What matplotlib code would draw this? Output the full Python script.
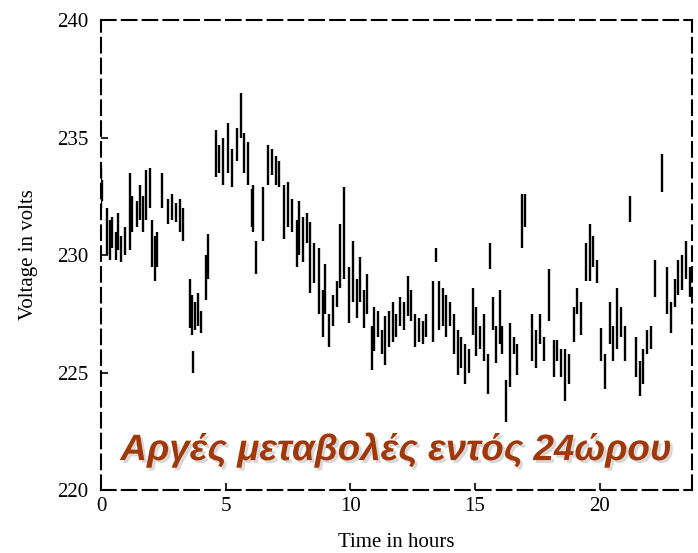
import matplotlib
matplotlib.use("Agg")
import matplotlib.pyplot as plt
import matplotlib.patheffects as pe

# time (h), low and high voltage of each trace stroke
t_hours = [0.00, 0.05, 0.25, 0.35, 0.45, 0.60, 0.70, 0.80, 0.95, 1.15, 1.25, 1.45, 1.55, 1.70, 1.80, 1.95,
           2.05, 2.15, 2.25, 2.45, 2.70, 2.85, 3.00, 3.15, 3.30, 3.55, 3.65, 3.70, 3.75, 3.90, 4.00, 4.20,
           4.30, 4.60, 4.75, 4.90, 5.10, 5.25, 5.45, 5.60, 5.75, 5.90, 6.05, 6.10, 6.20, 6.50, 6.70, 6.85,
           7.00, 7.15, 7.35, 7.50, 7.65, 7.85, 7.95, 8.10, 8.25, 8.40, 8.55, 8.75, 8.90, 9.00, 9.15, 9.30,
           9.45, 9.60, 9.75, 9.95, 10.10, 10.25, 10.40, 10.55, 10.65, 10.85, 10.95, 11.10, 11.25, 11.40,
           11.55, 11.70, 11.85, 12.00, 12.15, 12.30, 12.45, 12.60, 12.75, 12.90, 13.05, 13.30, 13.45, 13.55,
           13.70, 13.85, 14.00, 14.15, 14.30, 14.45, 14.60, 14.75, 14.90, 15.05, 15.20, 15.35, 15.50, 15.60,
           15.70, 15.85, 16.00, 16.10, 16.25, 16.40, 16.55, 16.70, 16.90, 17.00, 17.30, 17.45, 17.60, 17.75,
           17.95, 18.15, 18.30, 18.45, 18.60, 18.75, 18.95, 19.10, 19.25, 19.45, 19.60, 19.75, 19.90, 20.05,
           20.20, 20.40, 20.55, 20.70, 20.85, 21.00, 21.20, 21.45, 21.60, 21.75, 21.90, 22.05, 22.20, 22.50,
           22.70, 22.85, 23.00, 23.15, 23.30, 23.45, 23.60]
v_low = [232.0, 232.3, 230.0, 229.8, 230.3, 229.8, 230.2, 229.7, 230.0, 230.2, 231.0, 231.2, 231.5, 231.0, 231.5, 232.0,
         229.5, 228.9, 229.5, 232.0, 231.3, 231.5, 231.4, 231.0, 230.6, 226.9, 226.6, 225.0, 226.8, 227.0, 226.7, 228.1,
         229.0, 233.3, 233.5, 233.0, 233.5, 232.9, 234.0, 235.0, 233.5, 233.0, 231.2, 231.0, 229.2, 230.6, 233.0, 233.4,
         233.0, 232.9, 230.7, 231.2, 231.0, 229.5, 230.0, 229.7, 230.5, 228.4, 228.8, 227.5, 226.5, 227.5, 226.1, 227.0,
         227.8, 228.6, 229.0, 227.1, 228.0, 227.3, 228.0, 226.9, 227.5, 225.1, 225.9, 226.5, 225.8, 225.3,
         226.1, 226.3, 226.5, 227.0, 226.8, 227.4, 227.2, 226.1, 226.3, 226.2, 226.5, 226.3, 229.7, 226.8,
         227.0, 226.5, 227.0, 225.8, 224.9, 225.2, 224.5, 225.0, 226.6, 225.7, 226.0, 225.5, 224.1, 229.4,
         226.8, 225.4, 226.2, 225.8, 222.9, 224.4, 225.8, 224.9, 230.3, 231.2, 225.5, 225.2, 226.2, 225.5,
         227.2, 224.8, 225.5, 224.8, 223.8, 224.5, 226.3, 227.5, 226.6, 228.9, 228.9, 229.5, 228.8, 225.5,
         224.3, 226.2, 225.5, 226.0, 226.5, 225.5, 231.4, 224.8, 224.0, 224.5, 225.8, 226.0, 228.2, 232.7,
         227.5, 226.7, 227.8, 228.3, 228.5, 229.0, 228.2]
v_high = [233.7, 233.2, 232.0, 231.5, 231.6, 231.0, 231.8, 230.8, 231.2, 233.5, 232.5, 232.3, 233.0, 232.5, 233.6, 233.7,
          231.5, 230.8, 231.0, 233.5, 232.4, 232.6, 232.2, 232.4, 232.0, 229.0, 228.3, 225.9, 228.0, 228.4, 227.6, 230.0,
          230.9, 235.3, 234.7, 235.0, 235.6, 234.5, 235.4, 236.9, 235.2, 234.8, 232.8, 233.0, 230.6, 232.9, 234.7, 234.5,
          234.2, 234.0, 233.0, 233.1, 232.4, 231.5, 232.3, 231.6, 231.8, 231.4, 230.5, 230.3, 228.5, 229.6, 227.5, 228.3,
          228.9, 231.3, 232.9, 229.5, 230.6, 229.0, 229.9, 228.5, 229.2, 227.0, 227.8, 227.6, 226.8, 227.4,
          227.6, 228.0, 227.5, 228.2, 228.0, 229.1, 228.5, 227.5, 227.3, 227.2, 227.5, 228.9, 230.3, 228.9,
          228.6, 228.3, 228.0, 227.5, 226.8, 226.5, 226.2, 226.0, 228.6, 227.8, 227.0, 227.5, 225.8, 230.5,
          228.2, 227.0, 228.5, 227.0, 224.7, 227.1, 226.5, 226.2, 232.6, 232.6, 227.5, 226.8, 227.5, 226.5,
          229.4, 226.4, 226.4, 226.0, 226.0, 225.8, 227.8, 228.6, 228.0, 230.5, 231.3, 230.8, 229.8, 226.9,
          225.8, 228.0, 227.0, 228.6, 227.8, 227.0, 232.5, 226.5, 225.5, 226.0, 226.8, 227.0, 229.8, 234.3,
          229.5, 228.0, 229.0, 229.8, 230.0, 230.6, 229.5]

x_ticks = [0, 5, 10, 15, 20]
y_ticks = [220, 225, 230, 235, 240]

fig = plt.figure(figsize=(6.98, 5.53), dpi=100)
ax = fig.add_axes([0.1447, 0.1139, 0.8467, 0.8499])

ax.vlines(t_hours, v_low, v_high, color="black", lw=1.7)

ax.set_xlim(0, 23.7)
ax.set_ylim(220, 240)
ax.set_xticks(x_ticks)
ax.set_yticks(y_ticks)
for s in ax.spines.values():
    s.set_linestyle((0, (7, 3)))
    s.set_linewidth(1.5)
ax.tick_params(direction="in", length=5, width=1.2, labelsize=15)
ax.tick_params(axis="y", pad=9)
ax.tick_params(axis="x", pad=5)
for lab in ax.get_xticklabels() + ax.get_yticklabels():
    lab.set_family("Liberation Serif")
ax.set_xlabel("Time in hours", family="Liberation Serif", fontsize=15, labelpad=12)
ax.set_ylabel("Voltage in volts", family="Liberation Serif", fontsize=15, labelpad=14)

fig.text(0.567, 0.168, "Αργές μεταβολές εντός 24ώρου", family="Liberation Sans",
         fontsize=26.5, fontweight="bold", fontstyle="italic", color="#A0380A",
         ha="center", va="baseline",
         path_effects=[pe.SimplePatchShadow(offset=(2, -2), shadow_rgbFace="gray", alpha=0.3), pe.Normal()])

fig.savefig("out.png", dpi=100)
